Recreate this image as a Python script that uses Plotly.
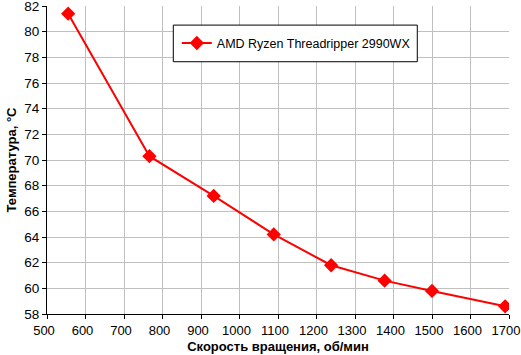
import plotly.graph_objects as go

speed = [555, 766, 933, 1089, 1238, 1377, 1500, 1690]
temp = [81.4, 70.3, 67.2, 64.2, 61.8, 60.6, 59.8, 58.6]
series_name = "AMD Ryzen Threadripper 2990WX"
x_title = "Скорость вращения, об/мин"
y_title = "Температура, °C"

FONT = "Arial, Liberation Sans"

fig = go.Figure()
fig.add_trace(go.Scatter(
    x=speed, y=temp, name=series_name, mode="lines+markers",
    line=dict(color="#ff0000", width=2),
    marker=dict(symbol="diamond", size=11, color="#ff0000"),
))

axis_common = dict(
    showgrid=True, gridcolor="#c0c0c0", gridwidth=1,
    showline=True, linecolor="black", linewidth=1,
    ticks="outside", ticklen=4, tickcolor="black",
    ticklabeloverflow="allow",
    automargin=False,
    zeroline=False,
)

fig.add_shape(type="rect", xref="paper", yref="paper",
              x0=0.2734, x1=0.8015, y0=0.819, y1=0.938,
              fillcolor="white", line=dict(color="black", width=1))

fig.update_layout(
    width=521, height=355,
    margin=dict(l=47, r=12, t=6, b=41),
    paper_bgcolor="white", plot_bgcolor="white",
    showlegend=True,
    legend=dict(
        x=0.281, y=0.8786, xanchor="left", yanchor="middle",
        bgcolor="rgba(0,0,0,0)", borderwidth=0,
        font=dict(family=FONT, size=12.5, color="black"),
        itemwidth=30,
    ),
    xaxis=dict(range=[500, 1700.001], dtick=100, tick0=500,
               tickfont=dict(family=FONT, size=13, color="black"),
               ticklabelshift=-3,
               title=dict(text=x_title, standoff=5,
                          font=dict(family=FONT, size=13, color="black", weight="bold")),
               **axis_common),
    yaxis=dict(range=[58, 82.001], dtick=2, tick0=58,
               tickfont=dict(family=FONT, size=13.5, color="black"),
               title=dict(text=y_title, standoff=4,
                          font=dict(family=FONT, size=13, color="black", weight="bold")),
               **axis_common),
)

fig.write_html("out.html", config={"displayModeBar": False},
               post_script="document.body.style.margin='0';")
